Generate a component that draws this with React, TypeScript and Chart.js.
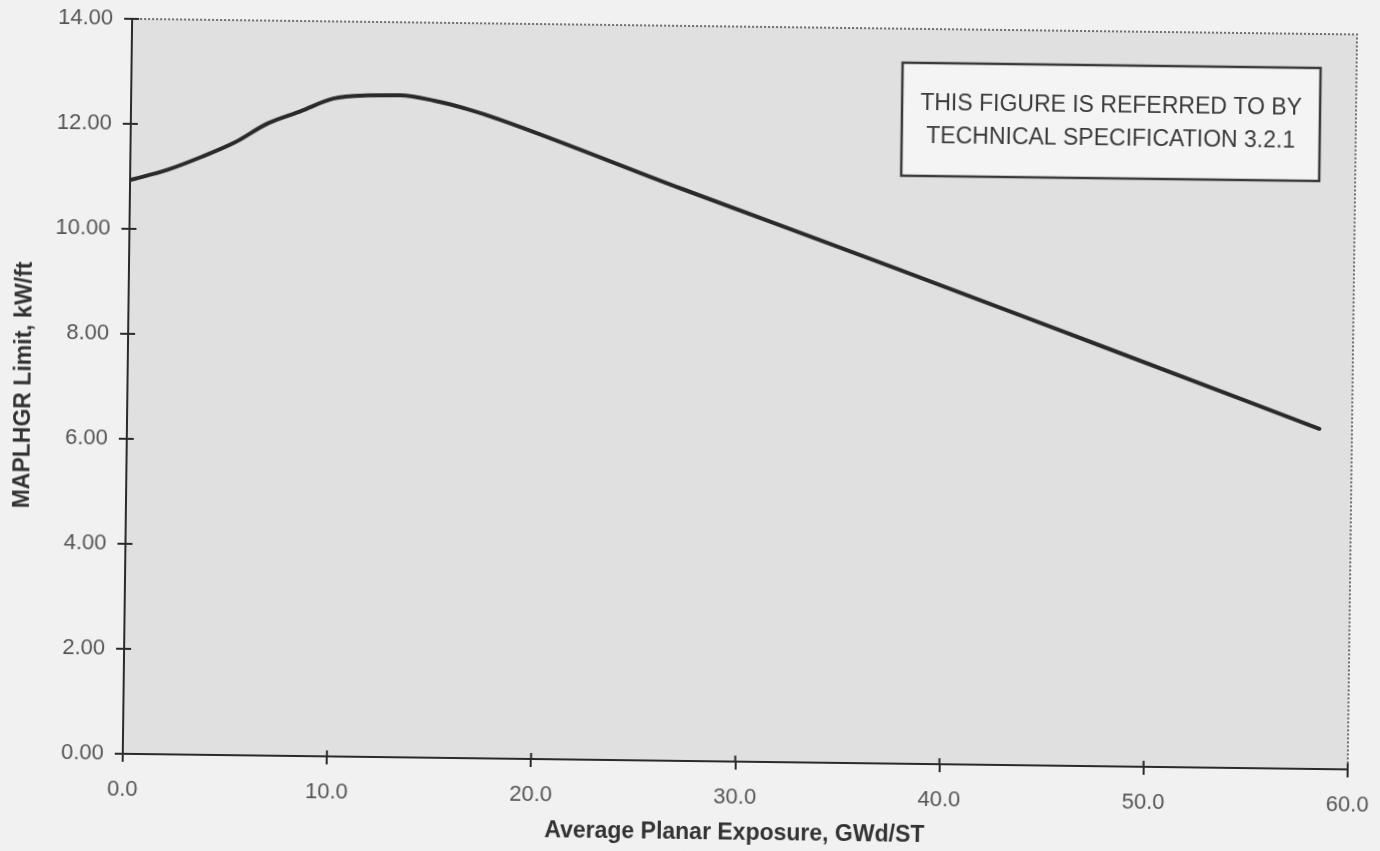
import React, { useEffect, useRef } from 'react';
import { Chart, registerables } from 'chart.js';

Chart.register(...registerables);

// ---- Data ----
const exposure = [0, 1.8, 3.5, 5.1, 6.7, 8.3, 9.9, 11.6, 13.2, 14.9, 16.5, 18.0, 27.0, 37.3, 47.7, 58.4];
const mapLhgr = [10.93, 11.13, 11.39, 11.67, 12.04, 12.28, 12.53, 12.6, 12.61, 12.51, 12.36, 12.18, 10.9, 9.47, 8.0, 6.48];
const xTicks = [0, 10, 20, 30, 40, 50, 60];
const yTicks = [0, 2, 4, 6, 8, 10, 12, 14];
const xTitle = 'Average Planar Exposure, GWd/ST';
const yTitle = 'MAPLHGR Limit, kW/ft';
const noteLines = ['THIS FIGURE IS REFERRED TO BY', 'TECHNICAL SPECIFICATION 3.2.1'];

const FONT = '"Liberation Sans", Arial, Helvetica, sans-serif';
const PAGE_BG = '#f1f1f1';
const PLOT_BG = '#e0e0e0';
const INK = '#2a2a2a';

const scanPlugin = {
  id: 'scanLook',
  beforeDraw(chart: any) {
    const { ctx, chartArea: a, width, height } = chart;
    ctx.save();
    ctx.fillStyle = PAGE_BG;
    ctx.fillRect(0, 0, width, height);
    ctx.fillStyle = PLOT_BG;
    ctx.fillRect(a.left, a.top, a.right - a.left, a.bottom - a.top);
    ctx.restore();
  },
  afterDraw(chart: any) {
    const { ctx, chartArea: a } = chart;
    const xs = chart.scales.x;
    const ys = chart.scales.y;
    ctx.save();
    // dotted top & right frame
    ctx.strokeStyle = '#6e6e6e';
    ctx.lineWidth = 2;
    ctx.setLineDash([2, 2]);
    ctx.beginPath();
    ctx.moveTo(a.left, a.top);
    ctx.lineTo(a.right, a.top);
    ctx.lineTo(a.right, a.bottom);
    ctx.stroke();
    ctx.setLineDash([]);
    // inward halves of the crossing tick marks
    ctx.strokeStyle = INK;
    ctx.lineWidth = 2;
    ctx.beginPath();
    ys.ticks.forEach((t: any) => {
      const y = ys.getPixelForValue(t.value);
      ctx.moveTo(a.left, y);
      ctx.lineTo(a.left + 7, y);
    });
    xs.ticks.forEach((t: any) => {
      const x = xs.getPixelForValue(t.value);
      ctx.moveTo(x, a.bottom);
      ctx.lineTo(x, a.bottom - 6);
    });
    ctx.stroke();
    // note box
    const bx = a.left + 771;
    const by = a.top + 34;
    const bw = 418;
    const bh = 113;
    ctx.fillStyle = '#f4f4f4';
    ctx.fillRect(bx, by, bw, bh);
    ctx.strokeStyle = '#3a3a3a';
    ctx.lineWidth = 2.5;
    ctx.strokeRect(bx, by, bw, bh);
    ctx.fillStyle = '#3a3a3a';
    ctx.font = `23px ${FONT}`;
    ctx.textAlign = 'center';
    ctx.textBaseline = 'middle';
    const cx = bx + bw / 2;
    const cy = by + bh / 2;
    ctx.fillText(noteLines[0], cx, cy - 16);
    ctx.fillText(noteLines[1], cx, cy + 17);
    ctx.restore();
  },
};

export default function App() {
  const canvasRef = useRef<HTMLCanvasElement | null>(null);

  useEffect(() => {
    const canvas = canvasRef.current;
    if (!canvas) return;
    const chart = new Chart(canvas, {
      type: 'line',
      data: {
        datasets: [
          {
            label: yTitle,
            data: exposure.map((x, i) => ({ x, y: mapLhgr[i] })),
            borderColor: INK,
            borderWidth: 4,
            pointRadius: 0,
            fill: false,
            cubicInterpolationMode: 'monotone',
            borderCapStyle: 'round',
          },
        ],
      },
      options: {
        responsive: false,
        maintainAspectRatio: false,
        animation: false,
        devicePixelRatio: 1,
        layout: { padding: { top: 26, right: 28, left: 0, bottom: 0 } },
        plugins: { legend: { display: false }, tooltip: { enabled: false } },
        scales: {
          x: {
            type: 'linear',
            min: xTicks[0],
            max: xTicks[xTicks.length - 1],
            afterBuildTicks: (s: any) => {
              s.ticks = xTicks.map((v) => ({ value: v }));
            },
            afterFit: (s: any) => {
              s.height = 90;
              s.paddingLeft = 0;
              s.paddingRight = 0;
            },
            ticks: {
              callback: (v: any) => Number(v).toFixed(1),
              font: { family: FONT, size: 22 },
              color: '#555',
              padding: 15,
              maxRotation: 0,
              autoSkip: false,
            },
            grid: { drawOnChartArea: false, drawTicks: true, tickLength: 8, color: INK, lineWidth: 2 },
            border: { display: true, color: INK, width: 2 },
            title: {
              display: true,
              text: xTitle,
              font: { family: FONT, size: 23, weight: 'bold' },
              color: '#333',
              padding: { top: 0, bottom: 5 },
            },
          },
          y: {
            type: 'linear',
            min: yTicks[0],
            max: yTicks[yTicks.length - 1],
            afterBuildTicks: (s: any) => {
              s.ticks = yTicks.map((v) => ({ value: v }));
            },
            afterFit: (s: any) => {
              s.width = 127;
              s.paddingTop = 0;
              s.paddingBottom = 0;
            },
            ticks: {
              callback: (v: any) => Number(v).toFixed(2),
              font: { family: FONT, size: 22 },
              color: '#555',
              padding: 11,
              autoSkip: false,
            },
            grid: { drawOnChartArea: false, drawTicks: true, tickLength: 8, color: INK, lineWidth: 2 },
            border: { display: true, color: INK, width: 2 },
            title: {
              display: true,
              text: yTitle,
              font: { family: FONT, size: 23, weight: 'bold' },
              color: '#333',
              padding: { top: 10, bottom: 0 },
            },
          },
        },
      },
      plugins: [scanPlugin],
    } as any);
    return () => chart.destroy();
  }, []);

  return (
    <div
      style={{
        position: 'fixed',
        left: 0,
        top: 0,
        width: 1380,
        height: 851,
        background: PAGE_BG,
        overflow: 'hidden',
      }}
    >
      <canvas
        ref={canvasRef}
        width={1380}
        height={851}
        style={{ display: 'block', width: 1380, height: 851, transform: 'rotate(0.73deg)' }}
      />
    </div>
  );
}
